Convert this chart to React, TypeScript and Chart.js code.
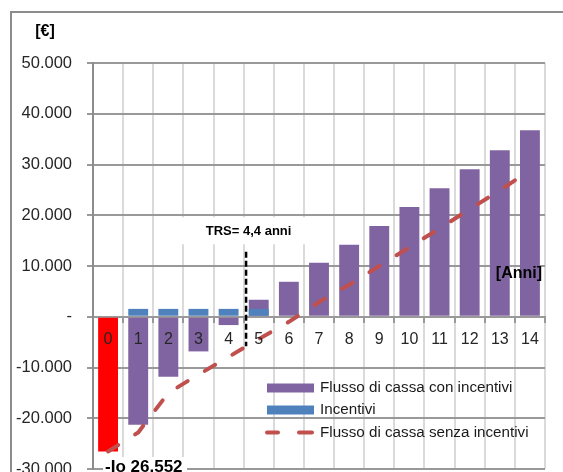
import React, { useEffect, useRef } from 'react';
import { Chart, registerables } from 'chart.js';

Chart.register(...registerables);

// ---- data ----
const YEARS = ['0', '1', '2', '3', '4', '5', '6', '7', '8', '9', '10', '11', '12', '13', '14'];
const INVESTIMENTO_INIZIALE = [-26552, null, null, null, null, null, null, null, null, null, null, null, null, null, null];
const FLUSSO_CON_INCENTIVI = [null, -21300, -11800, -6830, -1640, 3350, 6890, 10630, 14170, 17900, 21650, 25330, 29070, 32800, 36750];
const INCENTIVI = [null, 1550, 1550, 1550, 1550, 1550, null, null, null, null, null, null, null, null, null];
const FLUSSO_SENZA_INCENTIVI = [-26552, -22800, -15000, -11400, -7900, -4400, -1000, 2900, 6300, 10000, 13700, 17400, 21200, 24900, 28800];
const Y_TICK_VALUES = [-30000, -20000, -10000, 0, 10000, 20000, 30000, 40000, 50000];
const Y_TICK_LABELS = ['-30.000', '-20.000', '-10.000', '-', '10.000', '20.000', '30.000', '40.000', '50.000'];
const SERIES_LABELS = ['Flusso di cassa senza incentivi', 'Incentivi', 'Flusso di cassa con incentivi', 'Io'];
const TRS_LABEL = 'TRS= 4,4 anni';
const TRS_POSITION = 4.58; // position on the category axis
const TRS_RANGE = [-5800, 12800];
const IO_LABEL = '-Io 26.552';
const Y_UNIT = '[€]';
const X_UNIT = '[Anni]';

const FONT = "'Liberation Sans', Arial, sans-serif";

const overlay = {
  id: 'overlay',
  afterDraw(chart: any) {
    const ctx = chart.ctx as CanvasRenderingContext2D;
    const xs = chart.scales.x;
    const ys = chart.scales.y;
    const area = chart.chartArea;
    ctx.save();

    // outer frame
    ctx.strokeStyle = '#8c8c8c';
    ctx.lineWidth = 2;
    ctx.beginPath();
    ctx.moveTo(11, chart.height + 4);
    ctx.lineTo(11, 12);
    ctx.lineTo(chart.width + 4, 12);
    ctx.stroke();

    // unit labels
    ctx.fillStyle = '#000';
    ctx.font = `bold 16px ${FONT}`;
    ctx.textBaseline = 'middle';
    ctx.textAlign = 'center';
    ctx.fillText(Y_UNIT, area.left - 48, area.top - 31);
    ctx.textAlign = 'right';
    ctx.fillText(X_UNIT, area.right - 3, ys.getPixelForValue(0) - 43);

    // TRS marker
    const tx = xs.getPixelForValue(TRS_POSITION);
    const tTop = ys.getPixelForValue(TRS_RANGE[1]);
    const tBot = ys.getPixelForValue(TRS_RANGE[0]);
    ctx.fillStyle = '#fff';
    ctx.fillRect(tx - 70, tTop - 34.5, 146, 27);
    ctx.fillStyle = '#000';
    ctx.font = `bold 13px ${FONT}`;
    ctx.textAlign = 'center';
    ctx.textBaseline = 'middle';
    ctx.fillText(TRS_LABEL, tx + 2.5, tTop - 20);
    ctx.strokeStyle = '#000';
    ctx.lineWidth = 2.5;
    ctx.setLineDash([6, 3]);
    ctx.beginPath();
    ctx.moveTo(tx, tTop);
    ctx.lineTo(tx, tBot);
    ctx.stroke();
    ctx.setLineDash([]);

    // initial investment label
    const ix = xs.getPixelForValue(0) - 3;
    ctx.fillStyle = '#fff';
    ctx.fillRect(ix - 2, area.bottom - 12, 84, 30);
    ctx.fillStyle = '#000';
    ctx.font = `bold 17px ${FONT}`;
    ctx.textAlign = 'left';
    ctx.textBaseline = 'alphabetic';
    ctx.fillText(IO_LABEL, ix, area.bottom + 3);

    // legend (drawn inside plot area)
    const ds = chart.data.datasets;
    const lx = area.left + 174;
    const tx0 = lx + 53;
    const rows = [area.bottom - 81, area.bottom - 59, area.bottom - 36.5];
    ctx.font = `15.2px ${FONT}`;
    ctx.textBaseline = 'middle';
    ctx.textAlign = 'left';
    ctx.fillStyle = ds[2].backgroundColor;
    ctx.fillRect(lx, rows[0] - 4.5, 47, 9);
    ctx.fillStyle = '#1a1a1a';
    ctx.fillText(ds[2].label, tx0, rows[0]);
    ctx.fillStyle = ds[1].backgroundColor;
    ctx.fillRect(lx, rows[1] - 4.5, 47, 9);
    ctx.fillStyle = '#1a1a1a';
    ctx.fillText(ds[1].label, tx0, rows[1]);
    ctx.strokeStyle = ds[0].borderColor;
    ctx.lineWidth = 4;
    ctx.lineCap = 'round';
    ctx.beginPath();
    ctx.moveTo(lx, rows[2]);
    ctx.lineTo(lx + 11, rows[2]);
    ctx.moveTo(lx + 32, rows[2]);
    ctx.lineTo(lx + 45, rows[2]);
    ctx.stroke();
    ctx.fillStyle = '#1a1a1a';
    ctx.fillText(ds[0].label, tx0, rows[2]);

    ctx.restore();
  },
};

export default function App() {
  const ref = useRef<HTMLCanvasElement>(null);
  useEffect(() => {
    const canvas = ref.current!;
    const chart = new Chart(canvas, {
      type: 'bar',
      data: {
        labels: YEARS,
        datasets: [
          {
            type: 'line',
            label: SERIES_LABELS[0],
            data: FLUSSO_SENZA_INCENTIVI,
            borderColor: '#C0504D',
            backgroundColor: '#C0504D',
            borderWidth: 4,
            borderDash: [12, 20],
            borderCapStyle: 'round',
            borderJoinStyle: 'round',
            pointRadius: 0,
            fill: false,
            tension: 0,
            order: 0,
          } as any,
          {
            type: 'bar',
            label: SERIES_LABELS[1],
            data: INCENTIVI,
            backgroundColor: '#4F81BD',
            grouped: false,
            order: 1,
          } as any,
          {
            type: 'bar',
            label: SERIES_LABELS[2],
            data: FLUSSO_CON_INCENTIVI,
            backgroundColor: '#8064A2',
            grouped: false,
            order: 2,
          } as any,
          {
            type: 'bar',
            label: SERIES_LABELS[3],
            data: INVESTIMENTO_INIZIALE,
            backgroundColor: '#FF0000',
            grouped: false,
            order: 3,
          } as any,
        ],
      },
      options: {
        responsive: false,
        animation: false,
        events: [],
        layout: { padding: { left: 0, top: 63, right: 18, bottom: 3 } },
        datasets: { bar: { barPercentage: 0.66, categoryPercentage: 1 } } as any,
        plugins: { legend: { display: false }, tooltip: { enabled: false } },
        scales: {
          x: {
            type: 'category',
            position: { y: 0 } as any,
            offset: true,
            grid: { offset: true, color: '#dadada', lineWidth: 2, tickColor: '#999999', tickLength: 5, drawTicks: true },
            border: { display: true, color: '#999999', width: 2 },
            ticks: { z: 1, color: '#262626', font: { family: FONT, size: 16 }, padding: 8.6, maxRotation: 0, autoSkip: false },
            afterFit: (s: any) => { s.paddingLeft = 0; s.paddingRight = 0; },
          } as any,
          y: {
            type: 'linear',
            min: -30000,
            max: 50000,
            afterBuildTicks: (s: any) => { s.ticks = Y_TICK_VALUES.map((v) => ({ value: v })); },
            ticks: {
              color: '#262626',
              font: { family: FONT, size: 16.5 },
              padding: 15,
              callback: (v: any) => {
                const i = Y_TICK_VALUES.indexOf(Number(v));
                return i >= 0 ? Y_TICK_LABELS[i] : '';
              },
            },
            grid: { color: '#999999', lineWidth: 2, tickLength: 6, drawTicks: true },
            border: { display: true, color: '#8c8c8c', width: 2 },
            afterFit: (s: any) => { s.width = 93; s.paddingTop = 0; s.paddingBottom = 0; },
          } as any,
        },
      },
      plugins: [overlay],
    });
    return () => chart.destroy();
  }, []);
  return (
    <div style={{ position: 'fixed', left: 0, top: 0, width: 563, height: 472, overflow: 'hidden', background: '#fff' }}>
      <canvas ref={ref} width={563} height={472} style={{ display: 'block' }} />
    </div>
  );
}
